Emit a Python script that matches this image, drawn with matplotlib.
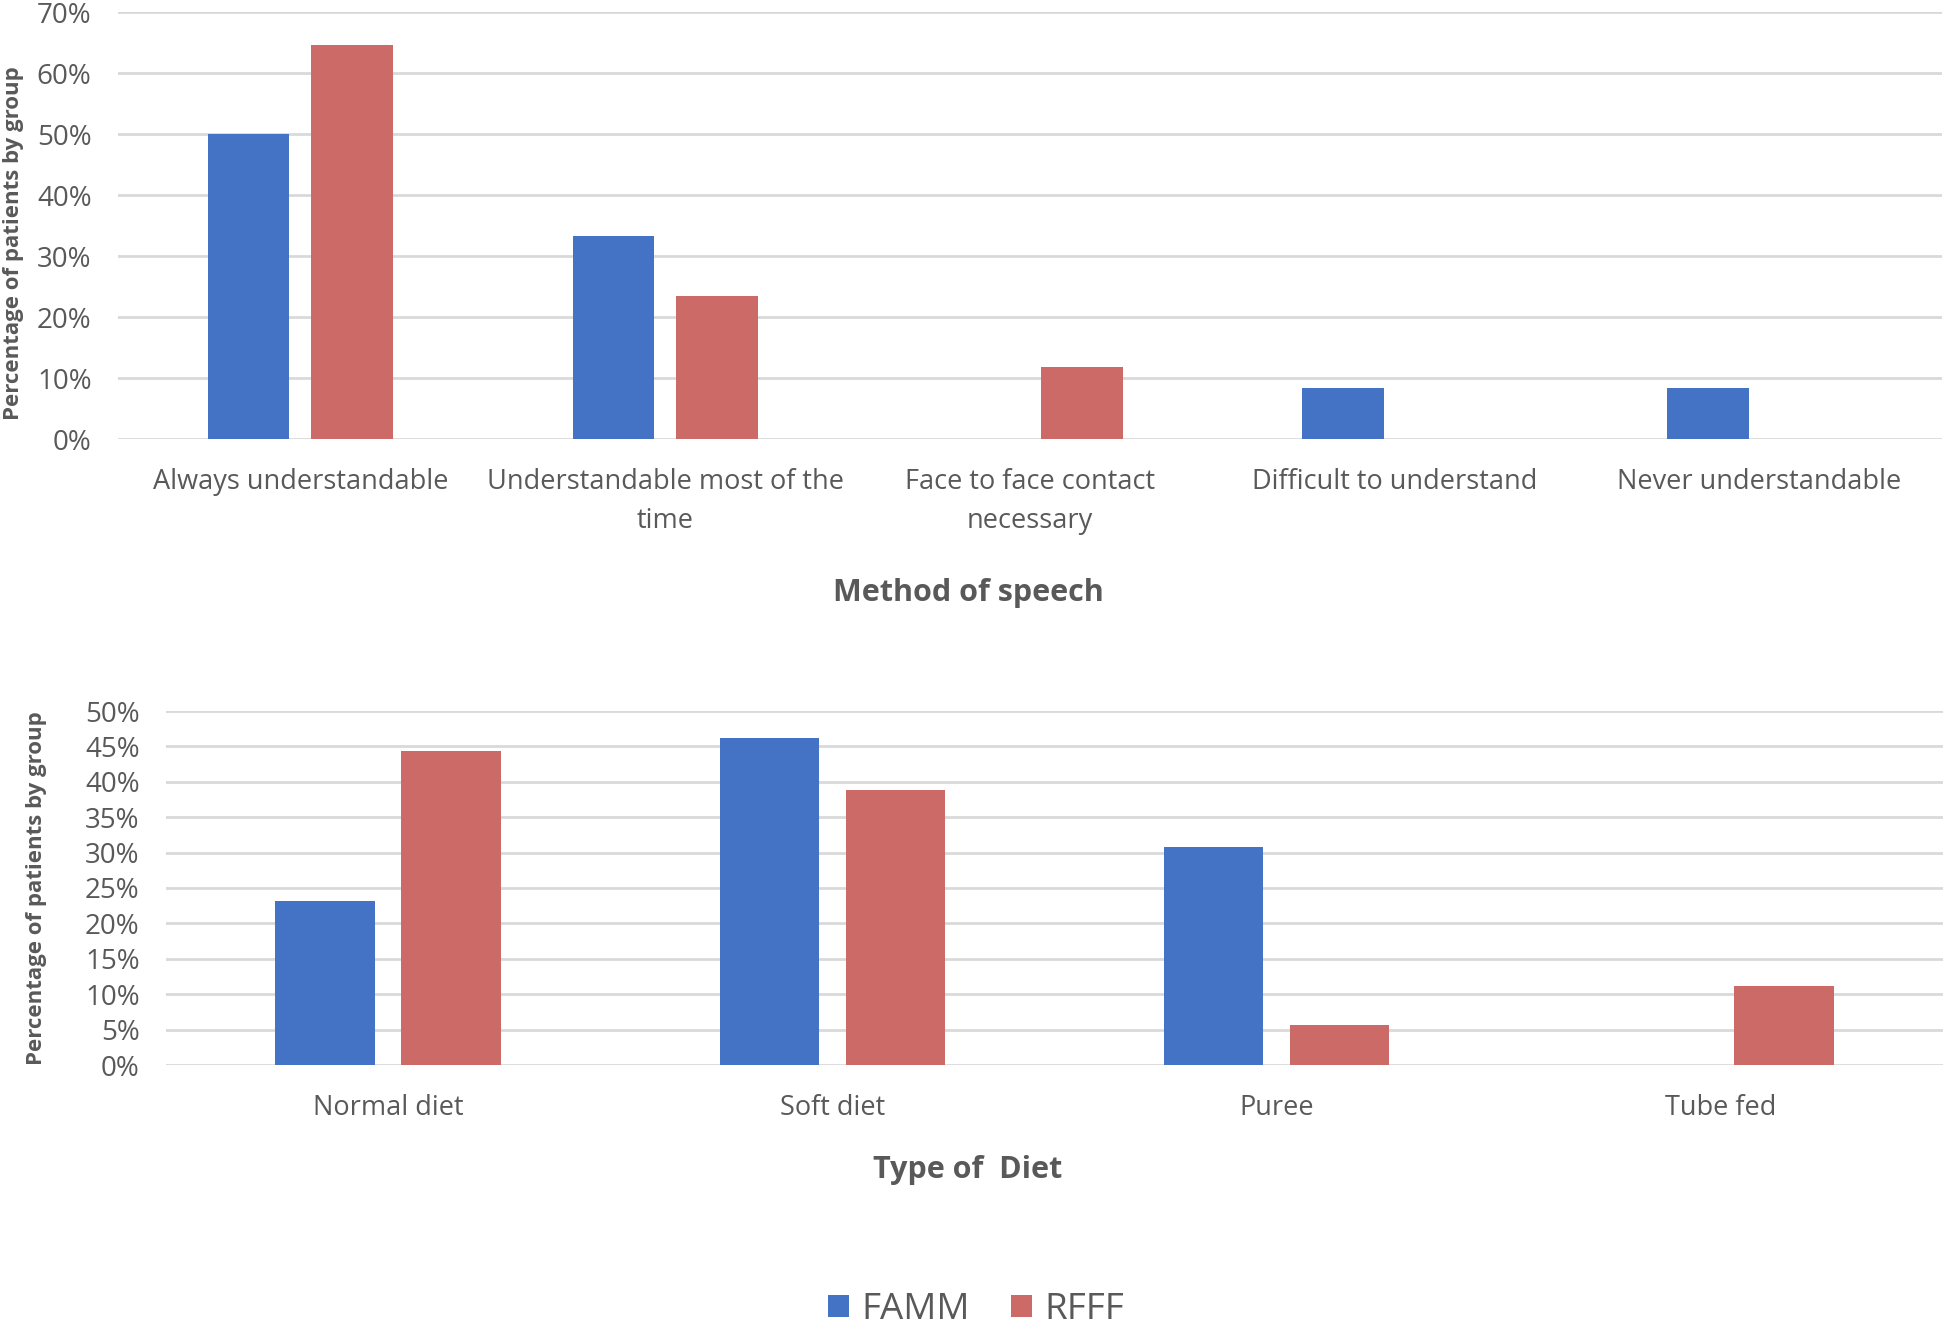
import matplotlib
matplotlib.use("Agg")
import matplotlib.pyplot as plt
import numpy as np
from matplotlib.ticker import PercentFormatter
from matplotlib.patches import Patch

speech_categories = ["Always understandable", "Understandable most of the\ntime",
                     "Face to face contact\nnecessary", "Difficult to understand",
                     "Never understandable"]
speech_famm = [50.0, 33.3, 0.0, 8.3, 8.3]
speech_rfff = [64.7, 23.5, 11.8, 0.0, 0.0]

diet_categories = ["Normal diet", "Soft diet", "Puree", "Tube fed"]
diet_famm = [23.1, 46.2, 30.8, 0.0]
diet_rfff = [44.4, 38.9, 5.6, 11.1]

series_names = ["FAMM", "RFFF"]

BLUE = "#4472C4"
RED = "#CC6A67"
GRID = "#D9D9D9"
TXT = "#595959"

plt.rcParams['font.family'] = ['Open Sans', 'DejaVu Sans']

fig = plt.figure(figsize=(19.46, 13.29), dpi=100)
ax1 = fig.add_axes([118/1946, 1-439/1329, (1942-118)/1946, (439-12.4)/1329])
ax2 = fig.add_axes([166/1946, 1-1065/1329, (1943-166)/1946, (1065-711)/1329])

w = 0.224
off = 0.142

def draw(ax, cats, a, b, ymax, step):
    x = np.arange(len(cats))
    ax.bar(x - off, [v/100 for v in a], w, color=BLUE, zorder=3)
    ax.bar(x + off, [v/100 for v in b], w, color=RED, zorder=3)
    ax.set_xlim(-0.5, len(cats) - 0.5)
    ax.set_ylim(0, ymax)
    ax.set_yticks(np.arange(0, ymax + 1e-9, step))
    ax.yaxis.set_major_formatter(PercentFormatter(1.0, decimals=0))
    ax.set_xticks(x)
    ax.set_xticklabels(cats, fontsize=19.5, color=TXT, linespacing=1.5)
    ax.tick_params(axis='y', labelsize=20, labelcolor=TXT, length=0, pad=19)
    ax.tick_params(axis='x', length=0, pad=21)
    for s in ax.spines.values():
        s.set_visible(False)
    ax.grid(axis='y', color=GRID, linewidth=2, zorder=0)
    ax.set_axisbelow(True)
    ax.set_ylabel("Percentage of patients by group", fontsize=16, fontweight='bold', color=TXT)

draw(ax1, speech_categories, speech_famm, speech_rfff, 0.70, 0.10)
draw(ax2, diet_categories, diet_famm, diet_rfff, 0.50, 0.05)
ax1.yaxis.set_label_coords((24-118)/1824, 0.46)
ax2.yaxis.set_label_coords((47-166)/1777, 0.5)

fig.text(968/1946, 1-593/1329, "Method of speech", ha='center', va='center',
         fontsize=22, fontweight='bold', color=TXT)
fig.text(968/1946, 1-1170/1329, "Type of  Diet", ha='center', va='center',
         fontsize=22, fontweight='bold', color=TXT)

handles = [Patch(facecolor=BLUE, label=series_names[0]), Patch(facecolor=RED, label=series_names[1])]
leg = fig.legend(handles=handles, loc='center', bbox_to_anchor=(976/1946, 1-1310/1329),
                 ncol=2, frameon=False, fontsize=26.5, handlelength=0.57, handleheight=0.57,
                 handletextpad=0.34, columnspacing=1.1, labelcolor=TXT)

fig.savefig("out.png", dpi=100, facecolor='white')
